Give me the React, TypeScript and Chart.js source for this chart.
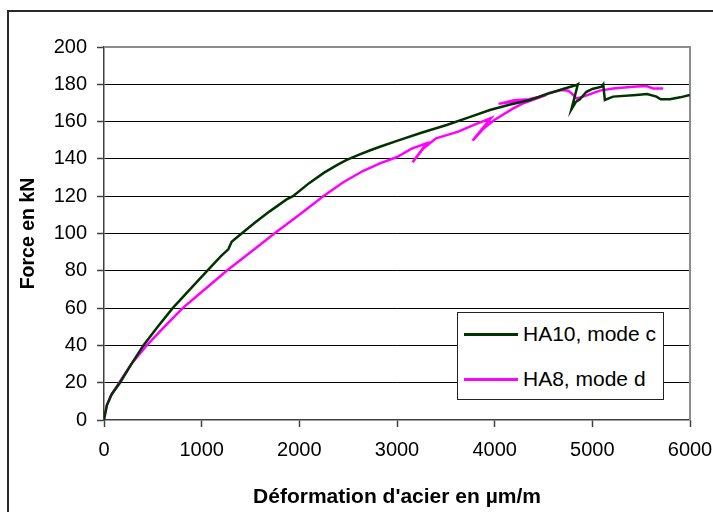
import React, { useEffect, useRef } from "react";
import { Chart, registerables } from "chart.js";

Chart.register(...registerables);

const seriesNames = ["HA10, mode c", "HA8, mode d"];

const ha10Strain = [0, 30, 80, 164, 280, 403, 550, 703, 880, 1056, 1200, 1273, 1307, 1409, 1550, 1700, 1870, 1935, 2100, 2250, 2380, 2480, 2600, 2720, 2825, 3000, 3250, 3508, 3750, 3951, 4150, 4360, 4550, 4700, 4838, 4852, 4786, 4830, 4872, 4940, 5000, 5094, 5112, 5128, 5213, 5452, 5560, 5657, 5700, 5793, 5900, 5998];
const ha10Force = [0, 8, 14, 20, 30, 40, 50, 60, 70, 80, 88, 91.5, 95.6, 100, 106, 112, 118.3, 120, 127, 132.5, 136.5, 139.3, 142, 144.5, 146.5, 149.7, 154, 158.2, 162.5, 166.2, 169, 171.6, 175, 177.5, 179.6, 180, 166.6, 170.5, 172, 176, 177.5, 178.7, 180, 171.6, 173.4, 174.3, 174.8, 173.4, 172, 172, 173, 174.3];

const ha8Strain = [0, 30, 70, 155, 280, 437, 600, 805, 1030, 1256, 1500, 1744, 2000, 2245, 2450, 2650, 2825, 3000, 3150, 3303, 3160, 3269, 3400, 3627, 3800, 3960, 3774, 3880, 4000, 4190, 4300, 4428, 4040, 4200, 4350, 4450, 4565, 4684, 4752, 4786, 4838, 4906, 5077, 5213, 5418, 5555, 5622, 5725];
const ha8Force = [2, 8, 13, 20, 30, 40, 49, 60, 70, 80, 90, 100, 110, 120, 127.5, 133.5, 137.6, 141, 145.5, 148.4, 138.2, 145.6, 151, 154.6, 158.5, 161.8, 149.8, 156, 161, 167.1, 170, 172.4, 169.5, 171.5, 172, 173.2, 175.5, 176.9, 176.6, 175.2, 172.4, 173.4, 176.6, 177.8, 178.7, 179.1, 177.8, 177.8];

const xTitle = "Déformation d'acier en µm/m";
const yTitle = "Force en kN";

const seriesColors = ["#003300", "#ff00ff"];

const FONT = "'Liberation Sans', Arial, sans-serif";

function zip(xs: number[], ys: number[]) {
  return xs.map((x, i) => ({ x, y: ys[i] }));
}

const plotBorder = {
  id: "plotBorder",
  beforeDatasetsDraw(chart: any) {
    const { ctx, chartArea } = chart;
    ctx.save();
    ctx.strokeStyle = "#8c8c8c";
    ctx.lineWidth = 2;
    ctx.beginPath();
    ctx.moveTo(chartArea.left, chartArea.top);
    ctx.lineTo(chartArea.right, chartArea.top);
    ctx.lineTo(chartArea.right, chartArea.bottom);
    ctx.stroke();
    ctx.restore();
  },
};

export default function App() {
  const ref = useRef<HTMLCanvasElement | null>(null);

  useEffect(() => {
    if (!ref.current) return;
    const chart = new Chart(ref.current, {
      type: "line",
      data: {
        datasets: [
          {
            label: seriesNames[0],
            data: zip(ha10Strain, ha10Force),
            borderColor: seriesColors[0],
            backgroundColor: seriesColors[0],
            borderWidth: 2.5,
            pointRadius: 0,
            tension: 0,
          },
          {
            label: seriesNames[1],
            data: zip(ha8Strain, ha8Force),
            borderColor: seriesColors[1],
            backgroundColor: seriesColors[1],
            borderWidth: 2.5,
            pointRadius: 0,
            tension: 0,
          },
        ],
      },
      options: {
        animation: false,
        responsive: false,
        devicePixelRatio: 1,
        layout: { padding: { left: 0, top: 47, right: 23, bottom: 0 } },
        plugins: { legend: { display: false }, tooltip: { enabled: false } },
        scales: {
          x: {
            type: "linear",
            min: 0,
            max: 6000,
            afterFit: (s: any) => {
              s.height = 92;
              s.paddingLeft = 0;
              s.paddingRight = 0;
            },
            ticks: {
              stepSize: 1000,
              color: "#000",
              padding: 11,
              maxRotation: 0,
              font: { family: FONT, size: 20 },
              callback: (v: any) => String(v),
            },
            grid: {
              display: true,
              drawOnChartArea: false,
              drawTicks: true,
              tickLength: 7,
              tickColor: "#404040",
              tickWidth: 1.5,
            },
            border: { display: true, color: "#404040", width: 1.5 },
            title: {
              display: true,
              text: xTitle,
              color: "#000",
              font: { family: FONT, size: 21, weight: "bold" },
              padding: { top: 0, bottom: 2.4 },
            },
          },
          y: {
            type: "linear",
            min: 0,
            max: 200,
            afterFit: (s: any) => {
              s.width = 104;
              s.paddingTop = 0;
              s.paddingBottom = 0;
            },
            ticks: {
              stepSize: 20,
              color: "#000",
              padding: 10,
              font: { family: FONT, size: 20 },
              callback: (v: any) => String(v),
            },
            grid: {
              display: true,
              drawTicks: true,
              tickLength: 7,
              tickColor: "#404040",
              tickWidth: 1.5,
              lineWidth: 1,
              color: (c: any) =>
                c.tick && (c.tick.value === 200 || c.tick.value === 0)
                  ? "rgba(0,0,0,0)"
                  : "#000",
            },
            border: { display: true, color: "#404040", width: 1.5 },
            title: {
              display: true,
              text: yTitle,
              color: "#000",
              font: { family: FONT, size: 19.5, weight: "bold" },
              padding: { top: 16.5, bottom: 0 },
            },
          },
        },
      },
      plugins: [plotBorder],
    });
    return () => chart.destroy();
  }, []);

  const rowStyle = (top: number): React.CSSProperties => ({
    position: "absolute",
    left: 6,
    top,
    height: 24,
    display: "flex",
    alignItems: "center",
    whiteSpace: "nowrap",
  });

  return (
    <div
      style={{
        position: "fixed",
        left: 0,
        top: 0,
        width: 713,
        height: 512,
        background: "#fff",
        overflow: "hidden",
      }}
    >
      <div
        style={{
          position: "absolute",
          left: 7,
          top: 10,
          width: 800,
          height: 600,
          borderLeft: "2px solid #2a2a2a",
          borderTop: "2px solid #2a2a2a",
          boxSizing: "border-box",
        }}
      />
      <canvas
        ref={ref}
        width={713}
        height={512}
        style={{ position: "absolute", left: 0, top: 0, display: "block" }}
      />
      <div
        style={{
          position: "absolute",
          left: 457,
          top: 312,
          width: 207,
          height: 88,
          border: "1px solid #222",
          boxSizing: "border-box",
          background: "#fff",
          fontFamily: FONT,
          fontSize: 21,
          color: "#000",
        }}
      >
        {seriesNames.map((name, i) => (
          <div key={name} style={rowStyle(i === 0 ? 9 : 54)}>
            <span
              style={{
                display: "inline-block",
                width: 54,
                height: 3,
                background: seriesColors[i],
                marginRight: 5,
              }}
            />
            <span>{name}</span>
          </div>
        ))}
      </div>
    </div>
  );
}
